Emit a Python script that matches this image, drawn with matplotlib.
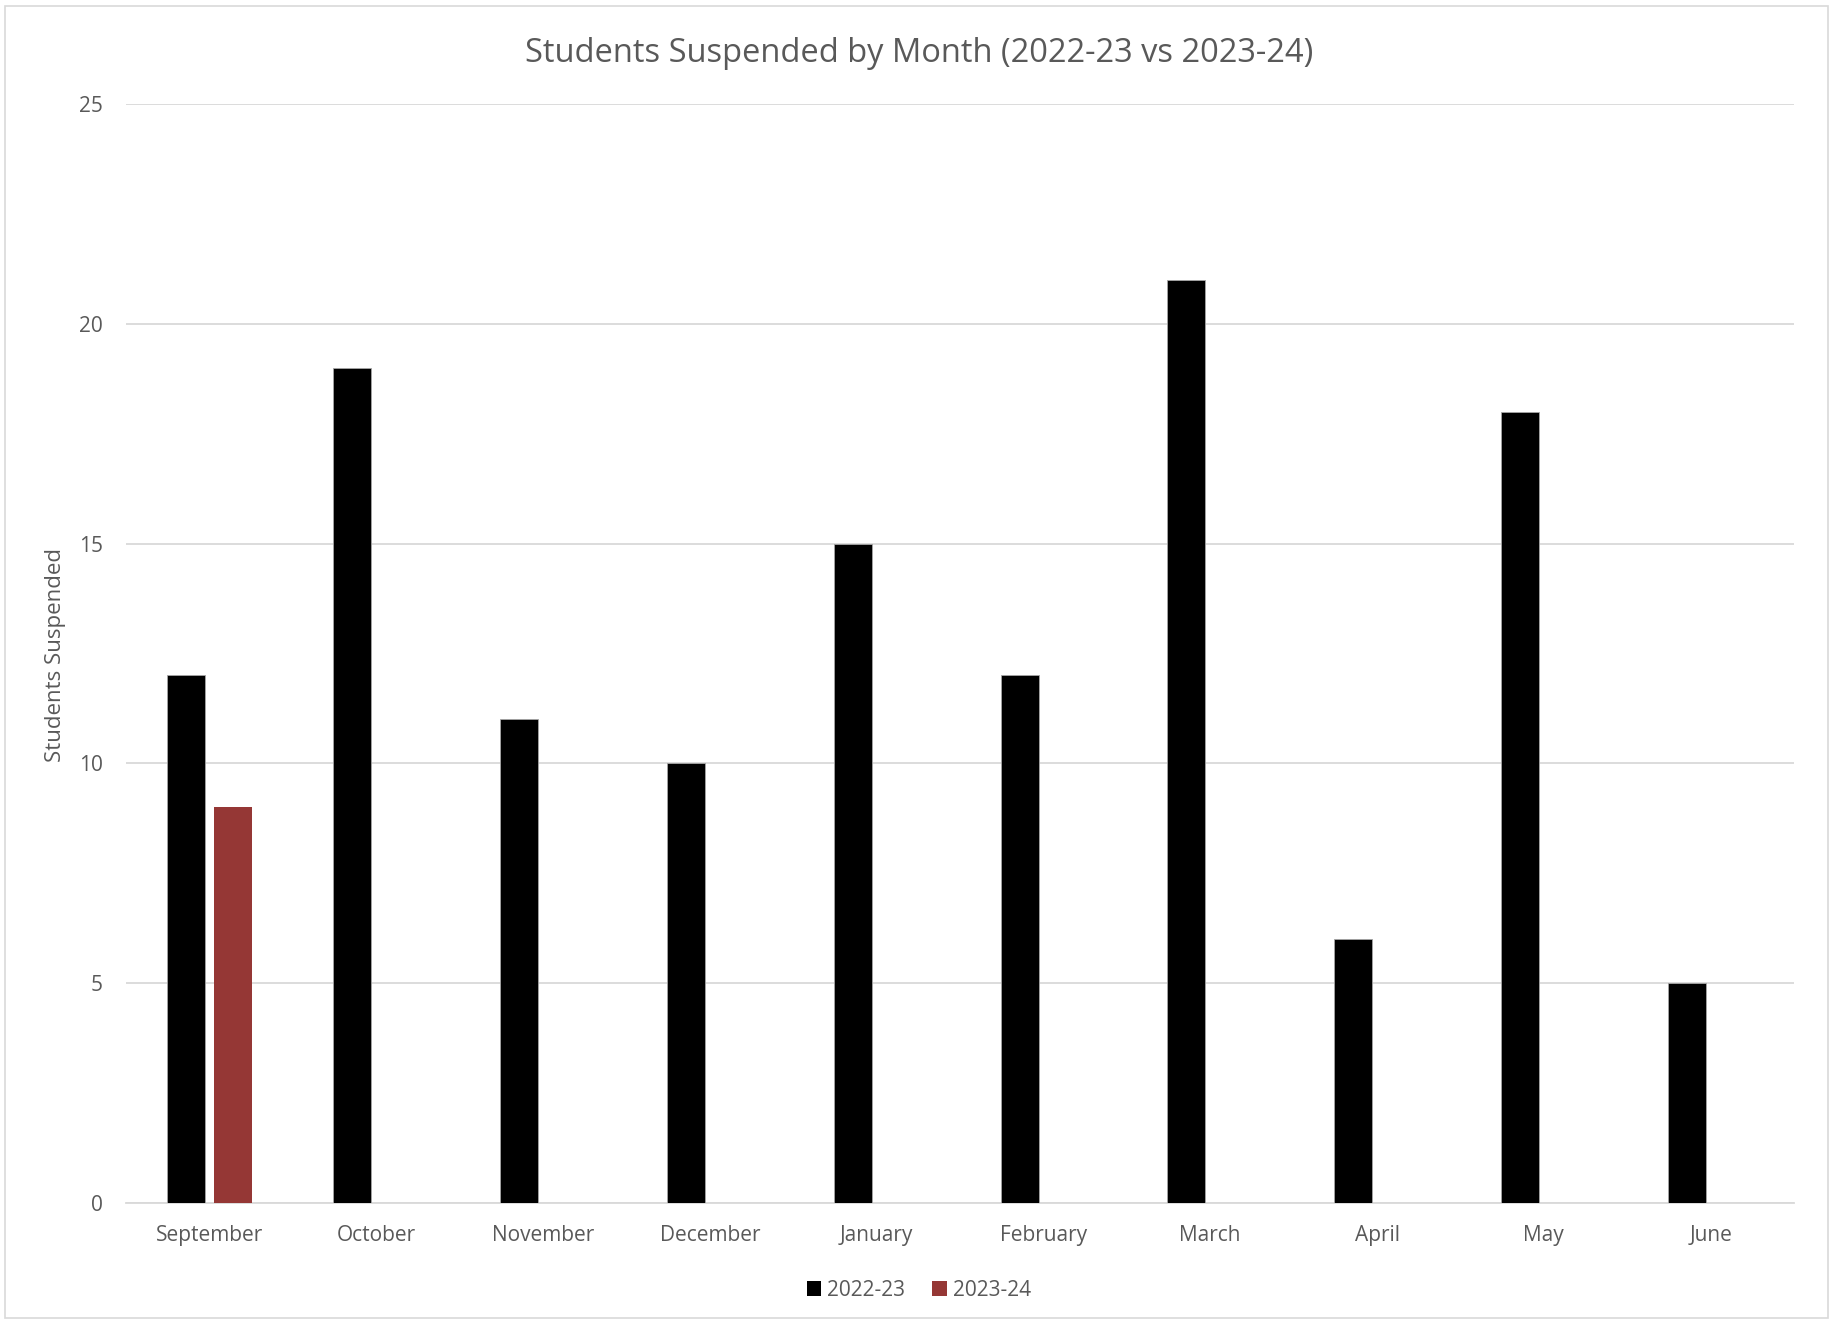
import matplotlib
matplotlib.use("Agg")
import matplotlib.pyplot as plt
import numpy as np
from matplotlib.patches import Rectangle, Patch

months = ["September", "October", "November", "December", "January",
          "February", "March", "April", "May", "June"]
s2223 = [12, 19, 11, 10, 15, 12, 21, 6, 18, 5]
s2324 = [9, 0, 0, 0, 0, 0, 0, 0, 0, 0]
series_labels = ["2022-23", "2023-24"]
yticks = [0, 5, 10, 15, 20, 25]

plt.rcParams['font.family'] = ['Open Sans', 'DejaVu Sans']
txt = "#595959"

W, H = 1834, 1323
fig = plt.figure(figsize=(W/100, H/100), dpi=100)
fig.patches.append(Rectangle((5/W, 1 - 1318/H), 1823/W, 1312/H, transform=fig.transFigure,
                             fill=False, edgecolor="#d9d9d9", linewidth=1.2))

left, right, top, bottom = 126, 1794, 104, 1203
ax = fig.add_axes([left/W, 1 - bottom/H, (right-left)/W, (bottom-top)/H])

x = np.arange(len(months))
bw = 0.228
off = 0.143
ax.bar(x - off, s2223, width=bw, color="black", edgecolor="#a6a6a6", linewidth=0.6,
       label=series_labels[0], zorder=3)
ax.bar(x + off, s2324, width=bw, color="#953735", linewidth=0, label=series_labels[1], zorder=3)

ax.set_xlim(-0.5, len(months) - 0.5)
ax.set_ylim(0, 25)
ax.set_yticks(yticks)
ax.set_xticks(x)
ax.set_xticklabels(months)
ax.grid(axis="y", color="#d9d9d9", linewidth=1.3, zorder=0)
for s in ["top", "right", "left"]:
    ax.spines[s].set_visible(False)
ax.spines["bottom"].set_color("#d9d9d9")
ax.spines["bottom"].set_linewidth(1.3)
ax.tick_params(axis="both", length=0, labelsize=15, labelcolor=txt)
ax.tick_params(axis="x", pad=16)
ax.tick_params(axis="y", pad=16.5)

fig.text(56/W, 1 - 655/H, "Students Suspended", rotation=90, ha="center", va="center",
         fontsize=16, color=txt)

fig.text(919/W, 1 - 54/H, "Students Suspended by Month (2022-23 vs 2023-24)",
         ha="center", va="center", fontsize=23.5, color=txt)

handles = [Patch(facecolor="black"), Patch(facecolor="#953735")]
leg = fig.legend(handles, series_labels, loc="center", bbox_to_anchor=(919/W, 1 - 1290/H),
                 ncol=2, frameon=False, fontsize=15, handlelength=0.7, handleheight=0.7,
                 handletextpad=0.3, columnspacing=1.3, labelcolor=txt)

fig.savefig("out.png", dpi=100)
